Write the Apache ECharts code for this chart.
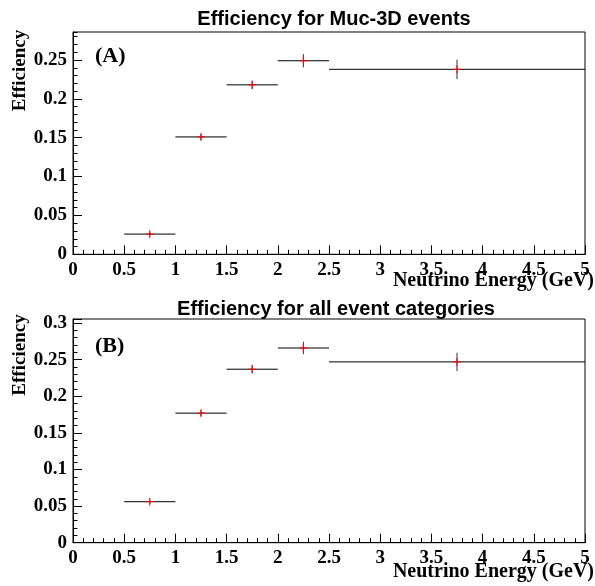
<!DOCTYPE html>
<html>
<head>
<meta charset="utf-8">
<script src="https://cdn.jsdelivr.net/npm/echarts@6/dist/echarts.min.js"></script>
<style>html,body{margin:0;padding:0;background:#fff}#c{width:595px;height:586px}</style>
</head>
<body>
<div id="c"></div>
<script>
// Data
const binLow  = [0.5, 1.0, 1.5, 2.0, 2.5];
const binHigh = [1.0, 1.5, 2.0, 2.5, 5.0];
const effA = [0.026, 0.151, 0.218, 0.249, 0.238];
const errA = [0.003, 0.004, 0.0055, 0.0085, 0.0125];
const effB = [0.056, 0.177, 0.237, 0.266, 0.247];
const errB = [0.003, 0.004, 0.0055, 0.0085, 0.0125];
const titleA = 'Efficiency for Muc-3D events';
const titleB = 'Efficiency for all event categories';
const xTitle = 'Neutrino Energy (GeV)';
const yTitle = 'Efficiency';

const chart = echarts.init(document.getElementById('c'), null, {renderer: 'canvas'});
const serif = '"Liberation Serif", "Times New Roman", serif';
const sans = '"Liberation Sans", Arial, sans-serif';

function renderItem(params, api) {
  const lo = api.value(0), hi = api.value(1), v = api.value(2), e = api.value(3);
  const mid = (lo + hi) / 2;
  const pL = api.coord([lo, v]), pR = api.coord([hi, v]);
  const pT = api.coord([mid, v + e]), pB = api.coord([mid, v - e]);
  const c = api.coord([mid, v]);
  const m = 4;
  return {type: 'group', children: [
    {type: 'line', shape: {x1: pL[0], y1: pL[1], x2: pR[0], y2: pR[1]}, style: {stroke: '#000', lineWidth: 1}},
    {type: 'line', shape: {x1: pT[0], y1: pT[1], x2: pB[0], y2: pB[1]}, style: {stroke: '#333', lineWidth: 1}},
    {type: 'line', shape: {x1: c[0] - m, y1: c[1], x2: c[0] + m, y2: c[1]}, style: {stroke: '#f00', lineWidth: 1}},
    {type: 'line', shape: {x1: c[0], y1: c[1] - m, x2: c[0], y2: c[1] + m}, style: {stroke: '#f00', lineWidth: 1}}
  ]};
}

function mkData(eff, err) {
  return binLow.map((lo, i) => [lo, binHigh[i], eff[i], err[i]]);
}

function xAxes(g) {
  return [
    {gridIndex: g, type: 'value', min: 0, max: 5, interval: 0.5,
     axisLine: {show: true, onZero: false, lineStyle: {color: '#000', width: 1}},
     axisTick: {show: true, inside: true, length: 9, lineStyle: {color: '#000'}},
     axisLabel: {show: true, margin: 6, color: '#000', fontFamily: serif, fontWeight: 'bold', fontSize: 19},
     splitLine: {show: false}},
    {gridIndex: g, type: 'value', min: 0, max: 5, interval: 0.1, position: 'bottom',
     axisLine: {show: false},
     axisTick: {show: true, inside: true, length: 4.5, lineStyle: {color: '#000'}},
     axisLabel: {show: false}, splitLine: {show: false}}
  ];
}
function yAxes(g, max) {
  return [
    {gridIndex: g, type: 'value', min: 0, max: max, interval: 0.05,
     axisLine: {show: true, onZero: false, lineStyle: {color: '#000', width: 1}},
     axisTick: {show: true, inside: true, length: 9, lineStyle: {color: '#000'}},
     axisLabel: {show: true, showMaxLabel: max > 0.3, margin: 6, color: '#000', fontFamily: serif, fontWeight: 'bold', fontSize: 19,
       formatter: v => (Math.abs(v - max) < 1e-9 && max % 0.05 > 1e-6) ? '' : String(+v.toFixed(3))},
     splitLine: {show: false}},
    {gridIndex: g, type: 'value', min: 0, max: max, interval: 0.01, position: 'left',
     axisLine: {show: false},
     axisTick: {show: true, inside: true, length: 4.5, lineStyle: {color: '#000'}},
     axisLabel: {show: false}, splitLine: {show: false}}
  ];
}

const option = {
  animation: false,
  backgroundColor: '#fff',
  grid: [
    {left: 73, right: 10, top: 32, height: 222.3, show: true, borderColor: '#000', borderWidth: 1, containLabel: false},
    {left: 73, right: 10, top: 319, height: 223.7, show: true, borderColor: '#000', borderWidth: 1, containLabel: false}
  ],
  xAxis: [].concat(xAxes(0), xAxes(1)),
  yAxis: [].concat(yAxes(0, 0.286), yAxes(1, 0.3056)),
  series: [
    {type: 'custom', xAxisIndex: 0, yAxisIndex: 0, renderItem: renderItem, data: mkData(effA, errA), clip: false},
    {type: 'custom', xAxisIndex: 2, yAxisIndex: 2, renderItem: renderItem, data: mkData(effB, errB), clip: false}
  ],
  graphic: [
    {type: 'text', x: 334, y: 19, style: {text: titleA, font: 'bold 20px ' + sans, fill: '#000', textAlign: 'center', textVerticalAlign: 'middle'}},
    {type: 'text', x: 336, y: 309, style: {text: titleB, font: 'bold 20px ' + sans, fill: '#000', textAlign: 'center', textVerticalAlign: 'middle'}},
    {type: 'text', x: 95, y: 56, style: {text: '(A)', font: 'bold 22px ' + serif, fill: '#000', textAlign: 'left', textVerticalAlign: 'middle'}},
    {type: 'text', x: 95, y: 346, style: {text: '(B)', font: 'bold 22px ' + serif, fill: '#000', textAlign: 'left', textVerticalAlign: 'middle'}},
    {type: 'text', x: 594, y: 281, style: {text: xTitle, font: 'bold 20px ' + serif, fill: '#000', textAlign: 'right', textVerticalAlign: 'middle'}},
    {type: 'text', x: 594, y: 572, style: {text: xTitle, font: 'bold 20px ' + serif, fill: '#000', textAlign: 'right', textVerticalAlign: 'middle'}},
    {type: 'text', x: 20, y: 70.5, rotation: Math.PI / 2, style: {text: yTitle, font: 'bold 19px ' + serif, fill: '#000', textAlign: 'center', textVerticalAlign: 'middle'}},
    {type: 'text', x: 20, y: 355, rotation: Math.PI / 2, style: {text: yTitle, font: 'bold 19px ' + serif, fill: '#000', textAlign: 'center', textVerticalAlign: 'middle'}}
  ]
};
chart.setOption(option);
</script>
</body>
</html>
